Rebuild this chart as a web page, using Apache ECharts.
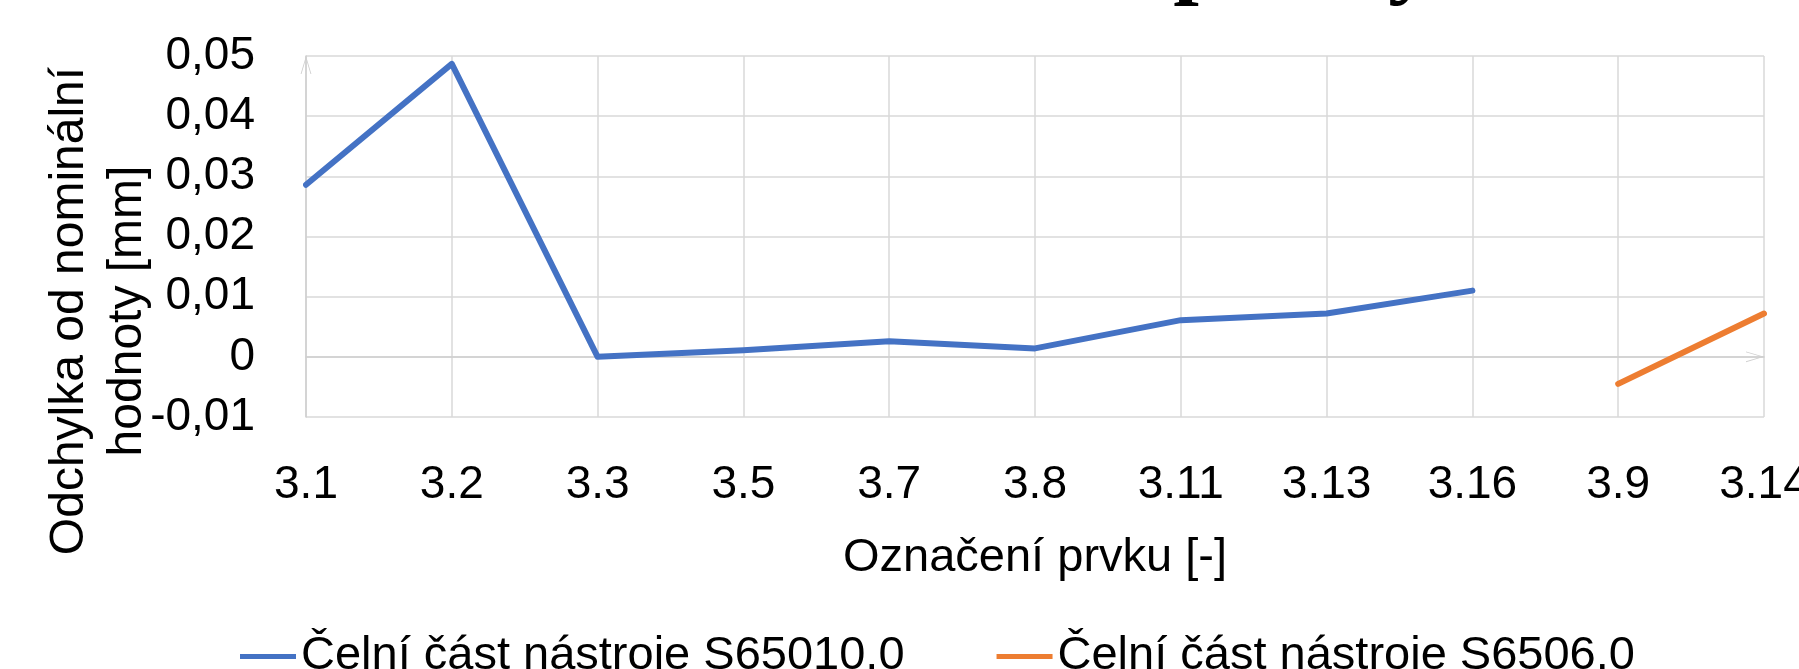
<!DOCTYPE html>
<html>
<head>
<meta charset="utf-8" />
<title>Odchylka od nominální hodnoty</title>
<script src="https://cdn.jsdelivr.net/npm/echarts@6/dist/echarts.min.js"></script>
<style>
  html, body { margin: 0; padding: 0; background: #fff; }
  #main { width: 1799px; height: 669px; }
</style>
</head>
<body>
<div id="main"></div>
<script type="text/javascript">
// data
var prvky = ['3.1', '3.2', '3.3', '3.5', '3.7', '3.8', '3.11', '3.13', '3.16', '3.9', '3.14'];
var s65010 = [0.0286, 0.0487, 0.0000, 0.0011, 0.0026, 0.0014, 0.0061, 0.0072, 0.0110, null, null];
var s6506 = [null, null, null, null, null, null, null, null, null, -0.0045, 0.0072];
var nazvy = ['Čelní část nástroje S65010.0', 'Čelní část nástroje S6506.0'];

var font = '"Liberation Sans", Arial, sans-serif';
var grey = '#d9d9d9';
// open chevron, tip up
var sipka = 'path://M0,20 L6,0 L12,20 L11,20 L6,3 L1,20 Z';

var myChart = echarts.init(document.getElementById('main'));

var option = {
    backgroundColor: '#fff',
    animation: false,
    grid: {
        left: 306,
        right: 35,
        top: 56,
        bottom: 252,
        outerBoundsMode: 'none',
        containLabel: false
    },
    legend: {
        data: nazvy,
        left: 235,
        top: 628,
        icon: 'rect',
        itemWidth: 56,
        itemHeight: 5,
        itemGap: 92,
        textStyle: {
            fontFamily: font,
            fontSize: 47,
            color: '#000'
        }
    },
    graphic: [
        {
            type: 'text',
            x: 1434,
            y: -37,
            silent: true,
            style: {
                text: 'Rovinnost čelní plochy',
                font: 'bold 92px "Liberation Serif", serif',
                fill: '#000',
                align: 'right',
                textAlign: 'right',
                verticalAlign: 'middle',
                textVerticalAlign: 'middle'
            }
        },
        {
            type: 'text',
            x: 99,
            y: 311,
            rotation: Math.PI / 2,
            silent: true,
            style: {
                text: 'Odchylka od nominální\nhodnoty [mm]',
                font: '48px ' + font,
                lineHeight: 58,
                fill: '#000',
                align: 'center',
                textAlign: 'center',
                verticalAlign: 'middle',
                textVerticalAlign: 'middle'
            }
        }
    ],
    xAxis: [
        {
            type: 'category',
            data: prvky,
            boundaryGap: false,
            position: 'bottom',
            name: 'Označení prvku [-]',
            nameLocation: 'middle',
            nameGap: 118,
            nameTextStyle: { fontFamily: font, fontSize: 47, color: '#000' },
            axisLine: { show: false, onZero: false },
            axisTick: { show: false },
            axisLabel: {
                interval: 0,
                margin: 45,
                fontFamily: font,
                fontSize: 46,
                color: '#000'
            },
            splitLine: { show: true, interval: 0, lineStyle: { color: grey, width: 1.5 } }
        },
        {
            // axis line through zero with the arrow
            type: 'category',
            data: prvky,
            boundaryGap: false,
            position: 'top',
            axisLine: {
                show: true,
                onZero: true,
                symbol: ['none', sipka],
                symbolSize: [11, 18],
                symbolOffset: [0, -9],
                lineStyle: { color: '#cfcfcf', width: 1.5 }
            },
            axisTick: { show: false },
            axisLabel: { show: false },
            splitLine: { show: false }
        }
    ],
    yAxis: {
        type: 'value',
        min: -0.01,
        max: 0.05,
        interval: 0.01,
        axisLine: {
            show: true,
            symbol: ['none', sipka],
            symbolSize: [11, 18],
            symbolOffset: [0, -9],
            lineStyle: { color: '#cfcfcf', width: 1.5 }
        },
        axisTick: { show: false },
        axisLabel: {
            margin: 51,
            fontFamily: font,
            fontSize: 46,
            color: '#000',
            formatter: function (v) {
                var r = Math.round(v * 100) / 100;
                if (r === 0) return '0';
                return r.toFixed(2).replace('.', ',');
            }
        },
        splitLine: { show: true, lineStyle: { color: grey, width: 1.5 } }
    },
    series: [
        {
            name: nazvy[0],
            type: 'line',
            data: s65010,
            showSymbol: false,
            symbol: 'none',
            itemStyle: { color: '#4472c4' },
            lineStyle: { color: '#4472c4', width: 6, cap: 'round', join: 'round' }
        },
        {
            name: nazvy[1],
            type: 'line',
            data: s6506,
            showSymbol: false,
            symbol: 'none',
            itemStyle: { color: '#ed7d31' },
            lineStyle: { color: '#ed7d31', width: 6, cap: 'round', join: 'round' }
        }
    ]
};
myChart.setOption(option);
</script>
</body>
</html>
